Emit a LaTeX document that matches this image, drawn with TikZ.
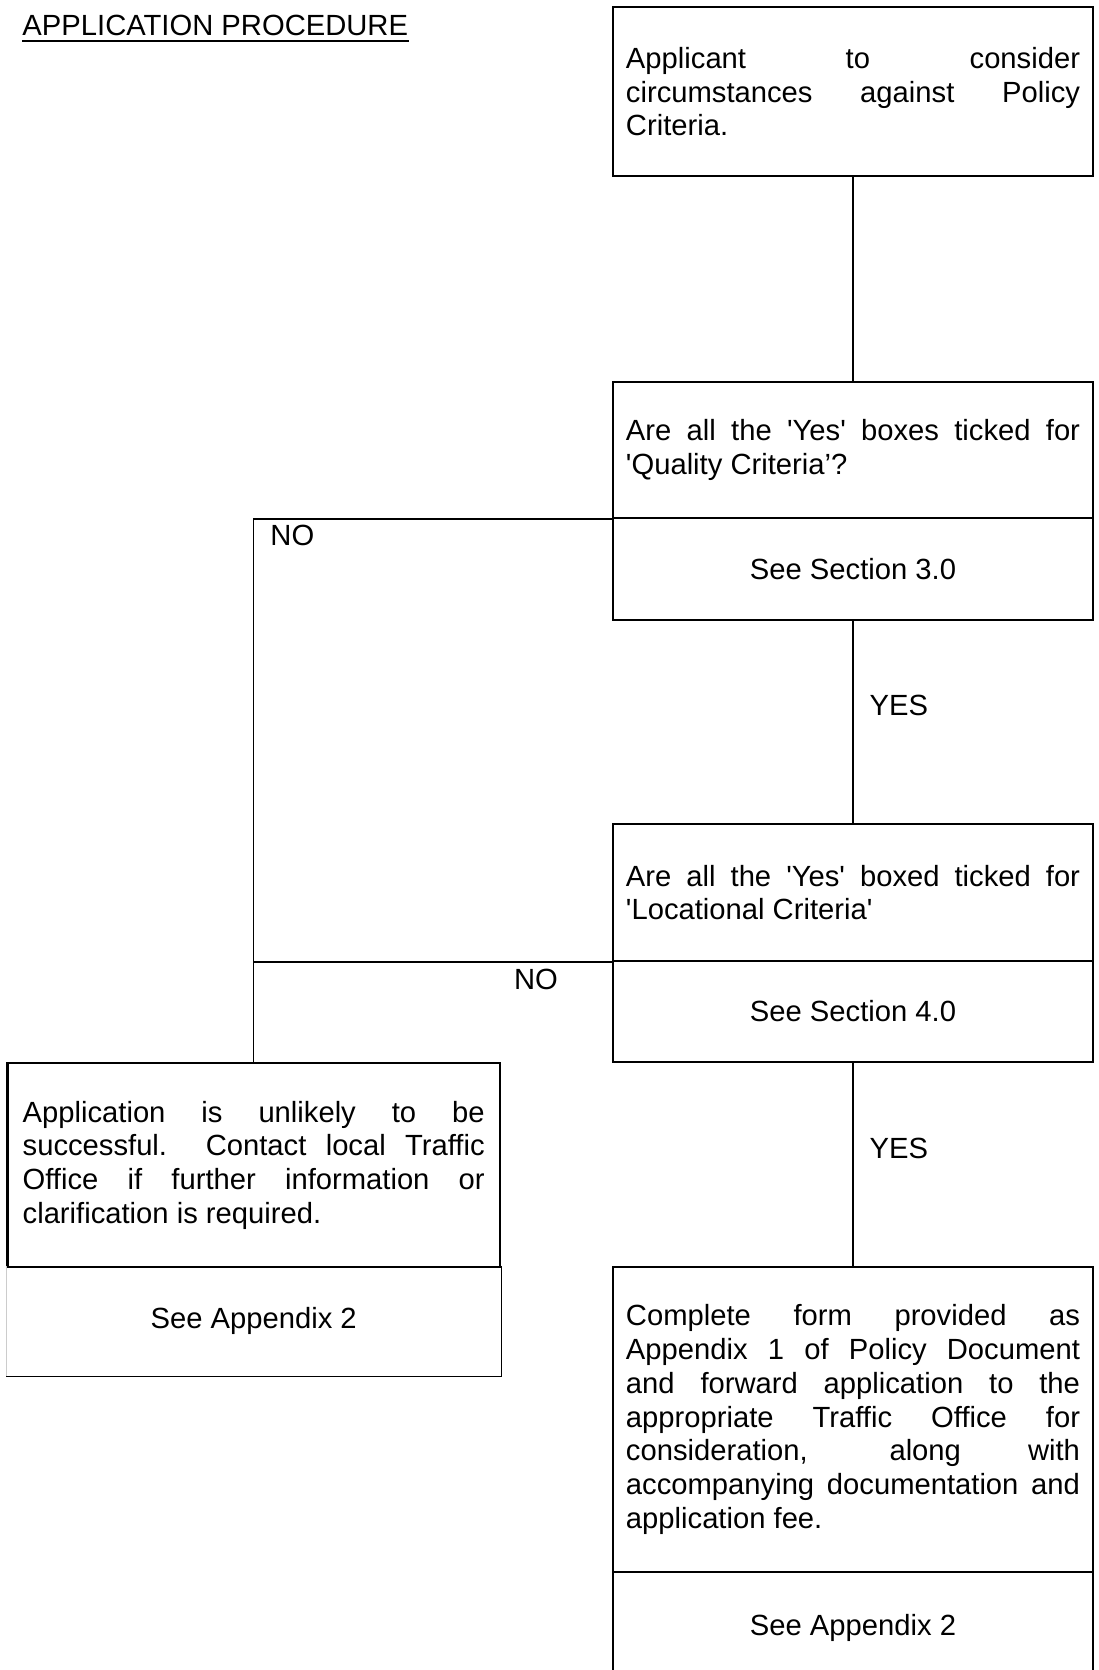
\documentclass[tikz,border=0pt]{standalone}
\usepackage{fontspec}
\setmainfont{Liberation Sans}
\hyphenpenalty=10000
\exhyphenpenalty=10000
\tolerance=9999
\tikzstyle{ask}=[rectangle,draw=black,line width=0.95pt,inner sep=0pt,minimum width=197.3pt,text width=186.6pt,align=justify]
\tikzstyle{see}=[rectangle,draw=black,line width=0.95pt,inner sep=0pt,minimum width=197.3pt,align=center]
\tikzstyle{wire}=[black,line width=0.6pt]
\tikzstyle{answer}=[inner sep=0pt]

\begin{document}
\begin{tikzpicture}[x=0.411pt,y=-0.411pt,font=\fontsize{12}{13.85}\selectfont]
			\useasboundingbox (0,0) rectangle (1098,1670);
			\node (title) [anchor=base west,inner sep=0pt] at (22,35.7) {APPLICATION PROCEDURE};
			\draw[line width=0.8pt] ([yshift=-2.1pt]title.base west) -- ([yshift=-2.1pt]title.base east);
			
			\node (consider) at (853,91.6) [ask,minimum height=69.5pt] {Applicant to consider\linebreak circumstances against Policy\linebreak Criteria.};
			\node (quality) at (853,450) [ask,minimum height=55.9pt] {Are all the \textquotesingle Yes\textquotesingle\ boxes ticked for\linebreak \textquotesingle Quality Criteria’?};
			\node (sec3) at (853,569) [see,minimum height=41.9pt] {See Section 3.0};
			\node (locational) at (853,892.5) [ask,minimum height=56.3pt] {Are all the \textquotesingle Yes\textquotesingle\ boxed ticked for\linebreak \textquotesingle Locational Criteria\textquotesingle};
			\node (sec4) at (853,1011.5) [see,minimum height=41.5pt] {See Section 4.0};
			\node (form) at (853,1419.5) [ask,minimum height=125.4pt] {Complete form provided as\linebreak Appendix 1 of Policy Document\linebreak and forward application to the\linebreak appropriate Traffic Office for\linebreak consideration, along with\linebreak accompanying documentation and\linebreak application fee.};
			\node (app2r) at (853,1628) [see,minimum height=46pt] {See Appendix 2};
			
			\node (unlikely) at (253.7,1165) [ask,minimum width=202.5pt,text width=189.9pt,minimum height=83.8pt] {Application is unlikely to be\linebreak successful.\ \ Contact local Traffic\linebreak Office if further information or\linebreak clarification is required.};
			\node (app2l) at (253.7,1321) [see,draw=none,minimum width=202.5pt,minimum height=44.4pt] {See Appendix 2};
			\draw[black,line width=0.5pt] (app2l.north east) -- (app2l.south east) -- (app2l.south west);
			\draw[gray!40,line width=0.5pt] (app2l.south west) -- (app2l.north west);
			
			\draw[wire] (consider) -- (quality);
			\draw[wire] (sec3) -- node (yes1) [answer,pos=0.42,anchor=west,xshift=6.5pt] {YES} (locational);
			\draw[wire] (sec4) -- node (yes2) [answer,pos=0.42,anchor=west,xshift=6.5pt] {YES} (form);
			\draw[wire] (quality.south west) -| (unlikely.north);
			\draw[wire] (locational.south west) -- (locational.south west -| unlikely.north);
			\node (no1) [answer,anchor=base west] at (270,545) {NO};
			\node (no2) [answer] at (536,979) {NO};
		\end{tikzpicture}
\end{document}
